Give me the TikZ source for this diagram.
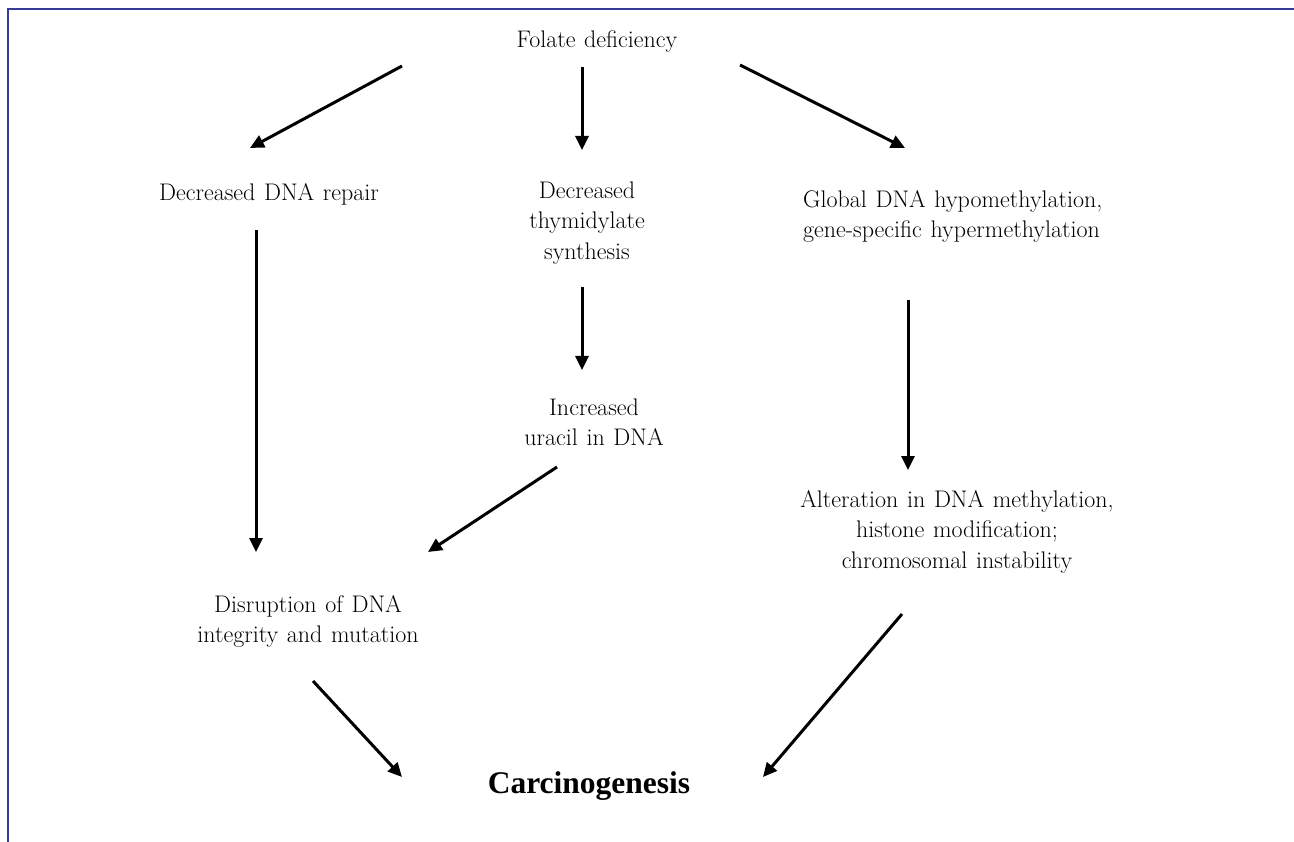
\documentclass[tikz,border=0pt]{standalone}
\usepackage{fontspec}
\newfontfamily\timesfont{Liberation Serif}
\usetikzlibrary{arrows.meta}
\definecolor{framecol}{RGB}{55,58,150}
\newcommand{\lblfont}{\fontsize{24}{30.5}\selectfont\addfontfeatures{FakeBold=1.5}\spaceskip=0.36em plus 0.1em minus 0.05em\relax}
\newcommand{\fs}{\rule{0pt}{17pt}}
\tikzset{
  lbl/.style={inner sep=0pt, anchor=north, align=center, font=\lblfont},
  arr/.style={line width=3pt, -{Triangle[length=14pt,width=13pt]}},
  frame/.style={draw=framecol, line width=2.6pt}
}
\begin{document}
\begin{tikzpicture}[x=1pt,y=-1pt]
\useasboundingbox (0,0) rectangle (1294,842);
\draw[frame] (8,842) -- (8,9) -- (1294,9);

\node[lbl] (folate) at (597,30) {\fs Folate deficiency};
\node[lbl] (drep) at (269,183) {\fs Decreased DNA repair};
\node[lbl] (dthy) at (587,181) {\fs Decreased\\thymidylate\\synthesis};
\node[lbl, anchor=north west, align=left] (glob) at (803,190) {\fs Global DNA hypomethylation,\\gene-specific hypermethylation};
\node[lbl] (incr) at (594,398) {\fs Increased\\uracil in DNA};
\node[lbl] (alt) at (957,490) {\fs Alteration in DNA methylation,\\histone modification;\\chromosomal instability};
\node[lbl] (disr) at (308,595) {\fs Disruption of DNA\\integrity and mutation};
\node[inner sep=0pt, anchor=base, font=\timesfont\bfseries\fontsize{31.5}{36}\selectfont] (carc) at (589,793) {Carcinogenesis};

\draw[arr] ([shift={(-195,36)}]folate.north) -- ([shift={(-19,-35)}]drep.north);
\draw[arr] ([shift={(-15,37)}]folate.north) -- ([shift={(-5,-31)}]dthy.north);
\draw[arr] ([shift={(143,35)}]folate.north) -- ([shift={(102,-42)}]glob.north west);
\draw[arr] ([shift={(-13,47)}]drep.north) -- ([shift={(-52,-43)}]disr.north);
\draw[arr] ([shift={(-5,106)}]dthy.north) -- ([shift={(-12,-28)}]incr.north);
\draw[arr] ([shift={(-37,69)}]incr.north) -- ([shift={(120,-43)}]disr.north);
\draw[arr] ([shift={(105,110)}]glob.north west) -- ([shift={(-49,-20)}]alt.north);
\draw[arr] ([shift={(5,86)}]disr.north) -- ([shift={(-187,-16)}]carc.base);
\draw[arr] ([shift={(-55,124)}]alt.north) -- ([shift={(174,-16)}]carc.base);
\end{tikzpicture}
\end{document}
